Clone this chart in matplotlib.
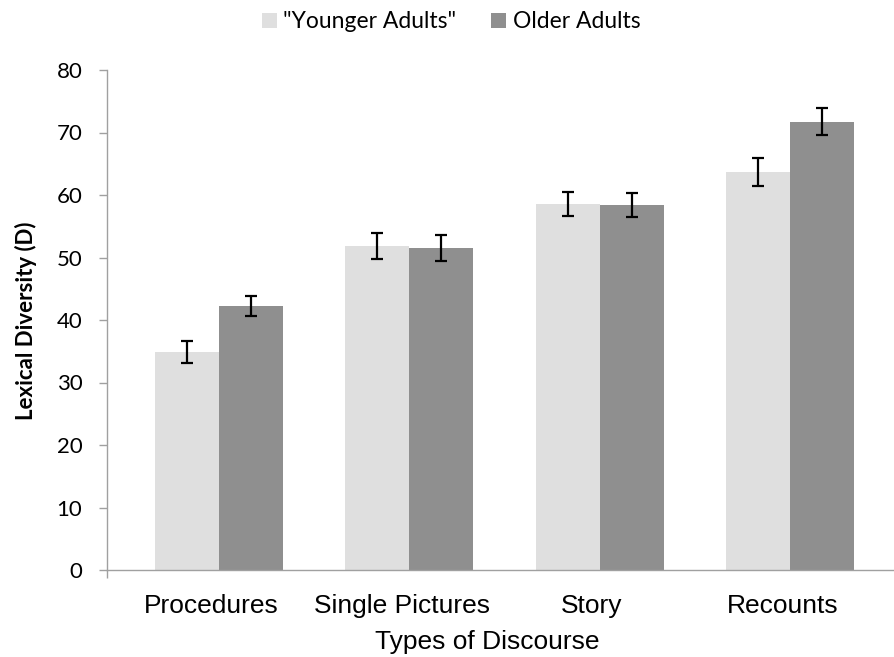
import numpy as np
import matplotlib
matplotlib.use("Agg")
import matplotlib.pyplot as plt
from matplotlib.patches import Patch

categories = ["Procedures", "Single Pictures", "Story", "Recounts"]
series = ['"Younger Adults"', "Older Adults"]
younger = [34.9, 51.8, 58.6, 63.7]
older = [42.2, 51.5, 58.4, 71.7]
younger_err = [1.7, 2.1, 1.9, 2.2]
older_err = [1.6, 2.1, 1.9, 2.15]
yticks = [0, 10, 20, 30, 40, 50, 60, 70, 80]

c_young = "#dfdfdf"
c_old = "#8f8f8f"
axis_grey = "#a0a0a0"
calibri_like = "Lato"
arial_like = "Liberation Sans"

W, H = 894, 657
fig = plt.figure(figsize=(W / 100, H / 100), dpi=100)
ax = fig.add_axes([107 / W, (H - 570) / H, (W - 107) / W, 500 / H])

x = np.arange(len(categories))
bw = 0.336

ax.bar(x - bw / 2, younger, bw, color=c_young, zorder=2)
ax.bar(x + bw / 2, older, bw, color=c_old, zorder=2)
ax.errorbar(x - bw / 2, younger, yerr=younger_err, fmt="none", ecolor="black",
            elinewidth=1.6, capsize=4.5, capthick=1.6, zorder=3)
ax.errorbar(x + bw / 2, older, yerr=older_err, fmt="none", ecolor="black",
            elinewidth=1.6, capsize=4.5, capthick=1.6, zorder=3)

# axes
ax.set_xlim(-0.589, 3.547)
ax.set_ylim(0, 80)
for s in ["top", "right"]:
    ax.spines[s].set_visible(False)
for s in ["left", "bottom"]:
    ax.spines[s].set_color(axis_grey)
    ax.spines[s].set_linewidth(1.0)

ax.set_yticks(yticks)
ax.set_yticklabels([str(v) for v in yticks], family=calibri_like, fontsize=16)
ax.tick_params(axis="y", direction="out", length=5.8, width=1.0, color=axis_grey, pad=12)

# category labels sit a little left of the bar groups in the original
ax.set_xticks(x - 0.04)
ax.set_xticklabels(categories, family=arial_like, fontsize=19)
ax.tick_params(axis="x", which="major", length=0, pad=17)
ax.set_xticks([-0.589], minor=True)
ax.tick_params(axis="x", which="minor", direction="out", length=5.8, width=1.0, color=axis_grey)

ax.set_xlabel("Types of Discourse", family=arial_like, fontsize=19, va="center")
ax.xaxis.set_label_coords(0.483, -0.144)
ax.set_ylabel("Lexical Diversity (D)", family=calibri_like, fontsize=16,
              fontweight="bold", va="center")
ax.yaxis.set_label_coords(-0.103, 0.498)

handles = [Patch(facecolor=c_young), Patch(facecolor=c_old)]
fig.legend(handles, series, loc="center", bbox_to_anchor=(451 / W, 1 - 22 / H),
           ncol=2, frameon=False, prop={"family": calibri_like, "size": 16.5},
           handlelength=0.65, handleheight=0.65, handletextpad=0.3, columnspacing=1.5)

fig.savefig("out.png", dpi=100)
